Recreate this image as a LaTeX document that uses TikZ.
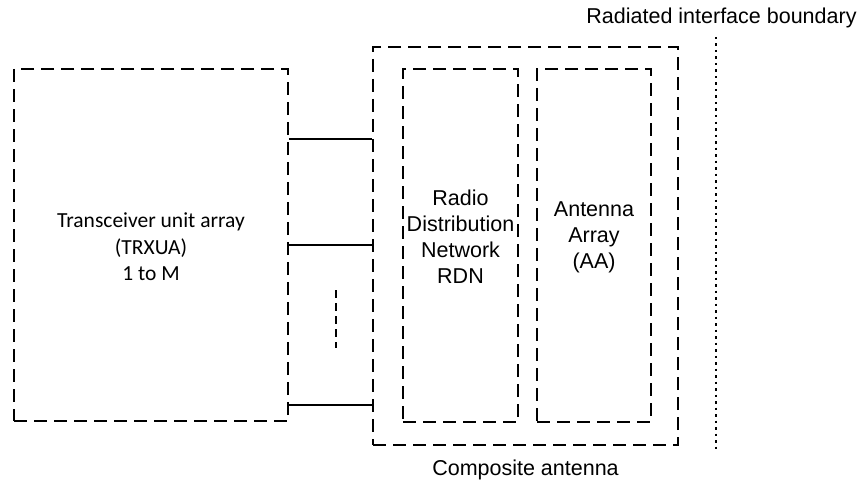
\documentclass[tikz,border=0pt]{standalone}
\usepackage{fontspec}
\setmainfont{Liberation Sans}
\newfontfamily\carlito{Carlito}
\usetikzlibrary{positioning}

\tikzset{
  dashbox/.style={draw, rectangle, line width=1.7pt, dash pattern=on 13pt off 7pt, inner sep=0pt},
  link/.style={line width=2pt},
  arial/.style={font=\fontsize{21.5}{26}\selectfont, align=center},
  calibri/.style={font=\carlito\fontsize{21.5}{26.5}\selectfont, align=center}
}

\begin{document}
\begin{tikzpicture}[x=10pt,y=-10pt]
    \useasboundingbox (0,0) rectangle (85.8,48.4);

    % boxes
    \node[dashbox, minimum width=274pt, minimum height=352pt] (trx) at (15.1,24.5) {};
    \node[dashbox, minimum width=305pt, minimum height=398pt] (comp) at (52.55,24.6) {};
    \node[dashbox, minimum width=115pt, minimum height=353pt] (rdn) at (46.05,24.55) {};
    \node[dashbox, minimum width=114pt, minimum height=353pt] (aa) at (59.4,24.55) {};

    % texts
    \node[calibri] (trxtext) at ([yshift=-2pt]trx.center) {Transceiver unit array\\(TRXUA)\\1 to M};
    \node[arial] (rdntext) at ([yshift=9pt]rdn.center) {Radio\\Distribution\\Network\\RDN};
    \node[arial] (aatext) at ([yshift=8pt]aa.center) {Antenna\\Array\\(AA)};
    \node[arial, below=11pt of comp.south] (comptext) {Composite antenna};

    % connections
    \coordinate (l1) at (0,13.9);
    \coordinate (l2) at (0,24.5);
    \coordinate (l3) at (0,40.5);
    \draw[link] (trx.east |- l1) -- (comp.west |- l1);
    \draw[link] (trx.east |- l2) -- (comp.west |- l2);
    \draw[link] (trx.east |- l3) -- (comp.west |- l3);

    \coordinate (d1) at (33.6,29);
    \coordinate (d2) at (33.6,34.8);
    \draw[line width=2pt, dash pattern=on 8pt off 5pt] (d1) -- (d2);

    % radiated interface boundary
    \coordinate (b1) at (71.6,3.7);
    \coordinate (b2) at (71.6,45);
    \draw[line width=2.2pt, dash pattern=on 2.5pt off 4pt] (b1) -- (b2);
    \node[arial] (btext) at (72.15,1.8) {Radiated interface boundary};
\end{tikzpicture}
\end{document}
